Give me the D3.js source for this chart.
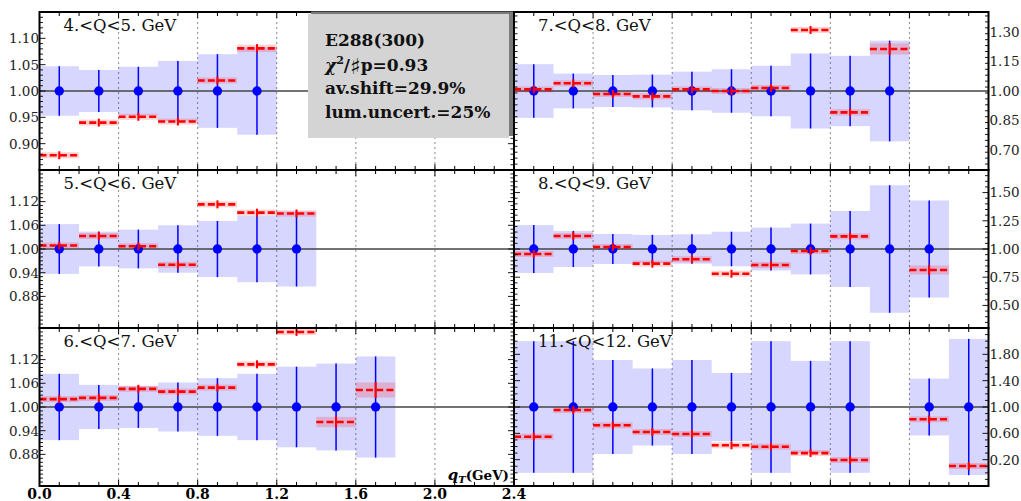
<!DOCTYPE html>
<html><head><meta charset="utf-8">
<script src="https://cdn.jsdelivr.net/npm/d3@7"></script>
<style>body{margin:0;background:#fff} svg{display:block}</style>
</head><body>
<svg id="chart" width="1021" height="501"></svg>
<script>
// qT bins are 0.2 GeV wide; data normalised to 1, theory shown relative to data
const binWidth = 0.2;

// 4 < Q < 5 GeV
const qT_Q45 = [0.1, 0.3, 0.5, 0.7, 0.9, 1.1];
const dataErr_Q45 = [0.047, 0.040, 0.046, 0.057, 0.070, 0.083];
const theory_Q45 = [0.878, 0.940, 0.951, 0.942, 1.020, 1.081];
const theoryErr_Q45 = [0.005, 0.005, 0.005, 0.005, 0.005, 0.007];

// 5 < Q < 6 GeV
const qT_Q56 = [0.1, 0.3, 0.5, 0.7, 0.9, 1.1, 1.3];
const dataErr_Q56 = [0.063, 0.044, 0.049, 0.060, 0.071, 0.084, 0.095];
const theory_Q56 = [1.009, 1.033, 1.007, 0.960, 1.113, 1.092, 1.090];
const theoryErr_Q56 = [0.005, 0.005, 0.005, 0.005, 0.005, 0.006, 0.008];

// 6 < Q < 7 GeV
const qT_Q67 = [0.1, 0.3, 0.5, 0.7, 0.9, 1.1, 1.3, 1.5, 1.7];
const dataErr_Q67 = [0.084, 0.056, 0.053, 0.062, 0.073, 0.084, 0.102, 0.110, 0.128];
const theory_Q67 = [1.020, 1.023, 1.046, 1.039, 1.049, 1.108, 1.190, 0.962, 1.043];
const theoryErr_Q67 = [0.005, 0.005, 0.005, 0.005, 0.005, 0.006, 0.007, 0.013, 0.019];

// 7 < Q < 8 GeV
const qT_Q78 = [0.1, 0.3, 0.5, 0.7, 0.9, 1.1, 1.3, 1.5, 1.7, 1.9];
const dataErr_Q78 = [0.136, 0.088, 0.081, 0.083, 0.098, 0.110, 0.128, 0.190, 0.178, 0.255];
const theory_Q78 = [1.008, 1.039, 0.985, 0.973, 1.008, 1.000, 1.015, 1.309, 0.892, 1.213];
const theoryErr_Q78 = [0.012, 0.012, 0.012, 0.012, 0.012, 0.012, 0.012, 0.012, 0.016, 0.028];

// 8 < Q < 9 GeV
const qT_Q89 = [0.1, 0.3, 0.5, 0.7, 0.9, 1.1, 1.3, 1.5, 1.7, 1.9, 2.1];
const dataErr_Q89 = [0.212, 0.160, 0.133, 0.125, 0.130, 0.153, 0.190, 0.225, 0.337, 0.565, 0.430];
const theory_Q89 = [0.956, 1.115, 1.018, 0.870, 0.909, 0.781, 0.858, 0.982, 1.112, null, 0.814];
const theoryErr_Q89 = [0.02, 0.02, 0.02, 0.02, 0.02, 0.02, 0.02, 0.02, 0.02, null, 0.04];

// 11 < Q < 12 GeV
const qT_Q1112 = [0.1, 0.3, 0.5, 0.7, 0.9, 1.1, 1.3, 1.5, 1.7, 2.1, 2.3];
const dataErr_Q1112 = [1.00, 1.00, 0.714, 0.585, 0.714, 0.518, 1.00, 0.700, 1.00, 0.432, 1.035];
const theory_Q1112 = [0.549, 0.954, 0.722, 0.620, 0.590, 0.418, 0.397, 0.300, 0.195, 0.813, 0.104];
const theoryErr_Q1112 = [0.035, 0.035, 0.035, 0.035, 0.035, 0.035, 0.035, 0.035, 0.035, 0.035, 0.035];

// panel titles, vertical ranges and tick values (left column, then right column)
const titles = ["4.<Q<5. GeV", "5.<Q<6. GeV", "6.<Q<7. GeV", "7.<Q<8. GeV", "8.<Q<9. GeV", "11.<Q<12. GeV"];
const yDomains = [[0.85, 1.15], [0.80, 1.20], [0.80, 1.20], [0.60, 1.40], [0.30, 1.70], [-0.20, 2.20]];
const yMajor = [
  [0.90, 0.95, 1.00, 1.05, 1.10],
  [0.88, 0.94, 1.00, 1.06, 1.12],
  [0.88, 0.94, 1.00, 1.06, 1.12],
  [0.70, 0.85, 1.00, 1.15, 1.30],
  [0.50, 0.75, 1.00, 1.25, 1.50],
  [0.20, 0.60, 1.00, 1.40, 1.80]
];
const yMinorStep = [0.01, 0.01, 0.01, 0.03, 0.05, 0.1];
const xTickLabels = [0.0, 0.4, 0.8, 1.2, 1.6, 2.0, 2.4];
const gridX = [0.4, 0.8, 1.2, 1.6, 2.0];

const panelData = [
  [qT_Q45, dataErr_Q45, theory_Q45, theoryErr_Q45],
  [qT_Q56, dataErr_Q56, theory_Q56, theoryErr_Q56],
  [qT_Q67, dataErr_Q67, theory_Q67, theoryErr_Q67],
  [qT_Q78, dataErr_Q78, theory_Q78, theoryErr_Q78],
  [qT_Q89, dataErr_Q89, theory_Q89, theoryErr_Q89],
  [qT_Q1112, dataErr_Q1112, theory_Q1112, theoryErr_Q1112]
];

const svg = d3.select("#chart");
const colLeft = [39.5, 514];
const rowTop = [12, 170, 328];
const W = 474.5, H = 158;
const serif = "'DejaVu Serif', serif";

const x = d3.scaleLinear().domain([0, 2.4]).range([0, W]);

panelData.forEach((pd, i) => {
  const col = i < 3 ? 0 : 1, row = i % 3;
  const [qT, dErr, th, thErr] = pd;
  const y = d3.scaleLinear().domain(yDomains[i]).range([H, 0]);
  const g = svg.append("g").attr("transform", `translate(${colLeft[col]},${rowTop[row]})`);
  const rows = qT.map((q, k) => ({ q, e: dErr[k], t: th[k], te: thErr[k] }));
  const withTh = rows.filter(r => r.t !== null);

  // dotted verticals
  g.selectAll(".grid").data(gridX).join("line")
    .attr("x1", d => x(d)).attr("x2", d => x(d)).attr("y1", 0).attr("y2", H)
    .attr("stroke", "#8a8a8a").attr("stroke-width", 1).attr("stroke-dasharray", "2,3");

  // data uncertainty bands
  g.selectAll(".band").data(rows).join("rect")
    .attr("x", d => x(d.q - binWidth / 2)).attr("width", x(binWidth) - x(0))
    .attr("y", d => y(1 + d.e)).attr("height", d => y(1 - d.e) - y(1 + d.e))
    .attr("fill", "rgba(0,0,255,0.16)");

  // theory uncertainty bands
  g.selectAll(".tband").data(withTh).join("rect")
    .attr("x", d => x(d.q - binWidth / 2)).attr("width", x(binWidth) - x(0))
    .attr("y", d => y(d.t) - Math.max(y(d.t - d.te) - y(d.t), 3))
    .attr("height", d => 2 * Math.max(y(d.t - d.te) - y(d.t), 3))
    .attr("fill", "rgba(255,0,0,0.18)");

  // unity line
  g.append("line").attr("x1", 0).attr("x2", W).attr("y1", y(1)).attr("y2", y(1))
    .attr("stroke", "#444").attr("stroke-width", 1.3);

  // data error bars and points
  g.selectAll(".ebar").data(rows).join("line")
    .attr("x1", d => x(d.q)).attr("x2", d => x(d.q))
    .attr("y1", d => y(1 + d.e)).attr("y2", d => y(1 - d.e))
    .attr("stroke", "#0000ff").attr("stroke-width", 1.5);
  g.selectAll(".pt").data(rows).join("circle")
    .attr("cx", d => x(d.q)).attr("cy", y(1)).attr("r", 4.7).attr("fill", "#0000ff");

  // theory dashed levels with error ticks
  g.selectAll(".th").data(withTh).join("line")
    .attr("x1", d => x(d.q - binWidth / 2)).attr("x2", d => x(d.q + binWidth / 2))
    .attr("y1", d => y(d.t)).attr("y2", d => y(d.t))
    .attr("stroke", "#ff0000").attr("stroke-width", 2.6).attr("stroke-dasharray", "7,3.2");
  g.selectAll(".terr").data(withTh).join("line")
    .attr("x1", d => x(d.q)).attr("x2", d => x(d.q))
    .attr("y1", d => y(d.t) - Math.max(y(d.t - d.te) - y(d.t), 3.5) - 0.5)
    .attr("y2", d => y(d.t) + Math.max(y(d.t - d.te) - y(d.t), 3.5) + 0.5)
    .attr("stroke", "#ff0000").attr("stroke-width", 2);

  // frame
  g.append("rect").attr("x", 0).attr("y", 0).attr("width", W).attr("height", H)
    .attr("fill", "none").attr("stroke", "#000").attr("stroke-width", 2);

  // x ticks on top and bottom edges
  const xt = d3.range(1, 24).map(k => k / 10);
  xt.forEach(v => {
    const major = Math.abs(v / 0.4 - Math.round(v / 0.4)) < 1e-6;
    const len = major ? 6 : 4;
    g.append("line").attr("x1", x(v)).attr("x2", x(v)).attr("y1", H).attr("y2", H - len)
      .attr("stroke", "#000").attr("stroke-width", 1);
    g.append("line").attr("x1", x(v)).attr("x2", x(v)).attr("y1", 0).attr("y2", len)
      .attr("stroke", "#000").attr("stroke-width", 1);
  });

  // y ticks on both side edges
  const [lo, hi] = yDomains[i];
  const st = yMinorStep[i];
  const yt = d3.range(Math.ceil(lo / st - 1e-6), Math.floor(hi / st + 1e-6) + 1).map(k => k * st);
  yt.forEach(v => {
    const major = yMajor[i].some(m => Math.abs(m - v) < 1e-6);
    const len = major ? 6 : 3.5;
    if (y(v) < 1.5 || y(v) > H - 1.5) return;
    g.append("line").attr("x1", 0).attr("x2", len).attr("y1", y(v)).attr("y2", y(v))
      .attr("stroke", "#000").attr("stroke-width", 0.9);
    g.append("line").attr("x1", W).attr("x2", W - len).attr("y1", y(v)).attr("y2", y(v))
      .attr("stroke", "#000").attr("stroke-width", 0.9);
  });

  // tick labels on the outer side
  g.selectAll(".ylab").data(yMajor[i]).join("text")
    .attr("x", col === 0 ? -0.5 : W + 1)
    .attr("y", d => y(d)).attr("dy", "0.36em")
    .attr("text-anchor", col === 0 ? "end" : "start")
    .attr("font-family", serif).attr("font-size", 13.5).attr("fill", "#222")
    .text(d => d3.format(".2f")(d));

  // panel title
  g.append("text").attr("x", 24).attr("y", 18.5)
    .attr("font-family", serif).attr("font-size", 16.5).attr("fill", "#111")
    .text(titles[i]);
});

// bottom x labels (left column)
svg.append("g").selectAll("text").data(xTickLabels).join("text")
  .attr("x", d => colLeft[0] + x(d)).attr("y", 499)
  .attr("text-anchor", "middle")
  .attr("font-family", serif).attr("font-size", 14).attr("font-weight", "bold")
  .text(d => d3.format(".1f")(d));

// axis title
const xt = svg.append("text").attr("x", 509).attr("y", 480).attr("text-anchor", "end")
  .attr("font-family", serif).attr("font-size", 13.5).attr("font-weight", "bold");
xt.append("tspan").attr("font-style", "italic").attr("font-size", 15).text("q");
xt.append("tspan").attr("font-style", "italic").attr("font-size", 10).attr("dy", 3).text("T");
xt.append("tspan").attr("dy", -3).text("(GeV)");

// fit summary box
const box = svg.append("g");
box.append("rect").attr("x", 311).attr("y", 11.5).attr("width", 202).attr("height", 124.5).attr("fill", "#7a7a7a");
box.append("rect").attr("x", 308).attr("y", 14).attr("width", 201).attr("height", 124).attr("fill", "#d4d4d4");
const bx = 325, lines = [46, 70.5, 94, 118];
const tb = (yy) => box.append("text").attr("x", bx).attr("y", yy)
  .attr("font-family", serif).attr("font-size", 17).attr("font-weight", "bold").attr("fill", "#111");
tb(lines[0]).text("E288(300)");
const chi = tb(lines[1]);
chi.append("tspan").attr("font-style", "italic").text("χ");
chi.append("tspan").attr("font-size", 11).attr("dy", -7).text("2");
chi.append("tspan").attr("dy", 7).text("/");
chi.append("tspan").attr("font-family", "'DejaVu Sans', sans-serif").attr("font-size", 22).attr("dy", 3).text("♯");
chi.append("tspan").attr("dy", -3).text("p=0.93");
tb(lines[2]).text("av.shift=29.9%");
tb(lines[3]).text("lum.uncert.=25%");
</script>
</body></html>
